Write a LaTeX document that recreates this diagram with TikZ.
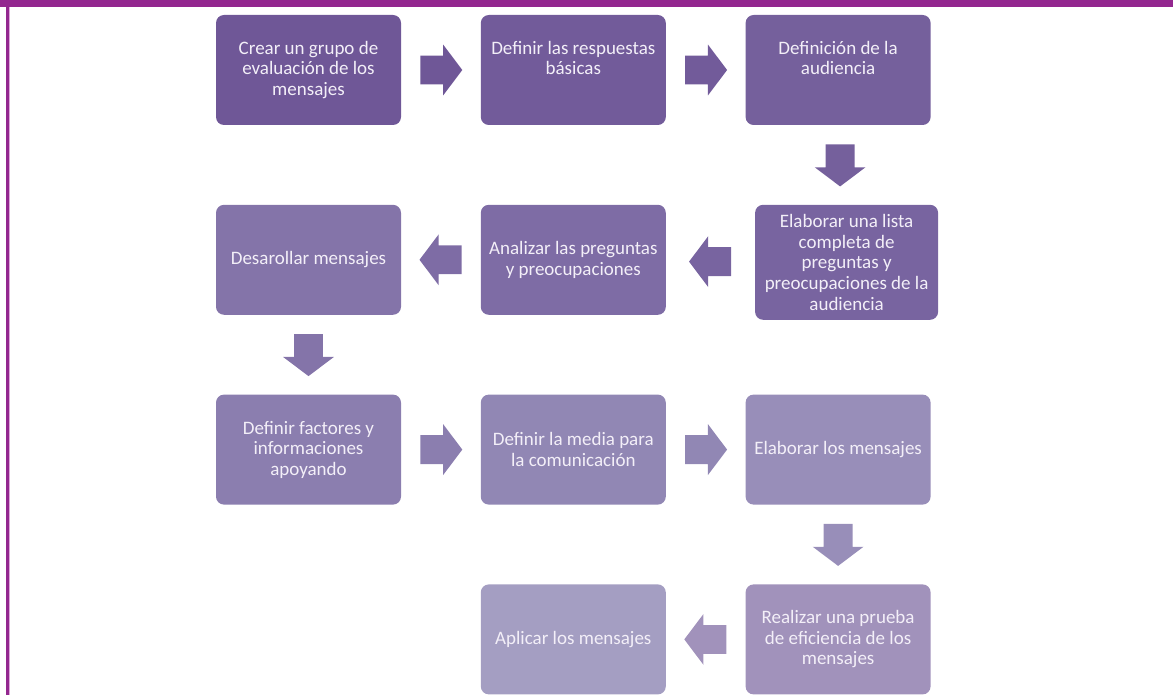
\documentclass[tikz,border=0pt]{standalone}
\usepackage{fontspec}
\setmainfont{Carlito}
\usetikzlibrary{positioning,shapes.arrows,calc}

\definecolor{frame}{HTML}{93278F}
\definecolor{frameL}{HTML}{DDA8DA}
\definecolor{txt}{HTML}{F3EFF8}
\definecolor{c1}{HTML}{6F5797}
\definecolor{c2}{HTML}{725B9A}
\definecolor{c3}{HTML}{75609C}
\definecolor{c4}{HTML}{7864A0}
\definecolor{c5}{HTML}{7E6CA5}
\definecolor{c6}{HTML}{8474A9}
\definecolor{c7}{HTML}{8B7EAF}
\definecolor{c8}{HTML}{9187B4}
\definecolor{c9}{HTML}{988EB9}
\definecolor{c10}{HTML}{A192BB}
\definecolor{c11}{HTML}{A49EC2}

\begin{document}
\begin{tikzpicture}[x=0.5pt,y=-0.5pt,
    box/.style={rectangle,rounded corners=4pt,text=txt,inner sep=2pt,
      minimum width=92.5pt,minimum height=55pt,align=center,
      font=\fontsize{9.5}{10.3}\selectfont},
    raised/.style={text depth=12pt},
    blk/.style={single arrow,draw=none,inner sep=7pt,anchor=tail,
      minimum height=21pt,minimum width=25pt,
      single arrow head extend=5.5pt,single arrow tip angle=106,
      single arrow head indent=0pt},
    lft/.style={shape border rotate=180},
    dwn/.style={shape border rotate=270}]

  \useasboundingbox (0,0) rectangle (1173,695);
  \fill[frame] (0,0) rectangle (1173,7);
  \fill[frame] (6,7) rectangle (9,695);
  \fill[frameL] (9,7) rectangle (10,695);

  \newcommand{\gap}{39.5pt}
  % first row
  \node[box,fill=c1] (grupo) at (308.5,70) {Crear un grupo de\\evaluación de los\\mensajes};
  \node[box,fill=c2,raised,right=\gap of grupo] (resp) {Definir las respuestas\\básicas};
  \node[box,fill=c3,raised,right=\gap of resp] (aud) {Definición de la\\audiencia};
  % second row
  \node[box,fill=c4,below=\gap of aud,xshift=4.25pt,minimum width=91.5pt,
    minimum height=57.5pt] (lista) {Elaborar una lista\\completa de\\preguntas y\\preocupaciones de la\\audiencia};
  \node[box,fill=c5,below=\gap of resp] (anal) {Analizar las preguntas\\y preocupaciones};
  \node[box,fill=c6,below=\gap of grupo] (desa) {Desarollar mensajes};
  % third row
  \node[box,fill=c7,below=\gap of desa] (fact) {Definir factores y\\informaciones\\apoyando};
  \node[box,fill=c8,below=\gap of anal] (media) {Definir la media para\\la comunicación};
  \node[box,fill=c9,right=\gap of media] (elab) {Elaborar los mensajes};
  % last row
  \node[box,fill=c10,below=\gap of elab] (prueba) {Realizar una prueba\\de eficiencia de los\\mensajes};
  \node[box,fill=c11,below=\gap of media] (apl) {Aplicar los mensajes};

  % block arrows, tail put half a length back from the middle of the gap
  \node[blk,fill=c1] (a1) at ($(grupo.east)!0.5!(resp.west)!10.5pt!(grupo.east)$) {};
  \node[blk,fill=c2] (a2) at ($(resp.east)!0.5!(aud.west)!10.5pt!(resp.east)$) {};
  \node[blk,dwn,fill=c3] (a3) at ($(aud.south)!0.5!(lista.north)!10.5pt!(aud.south)$) {};
  \node[blk,lft,fill=c4] (a4) at ($(lista.west)!0.5!(anal.east)!10.5pt!(lista.west)$) {};
  \node[blk,lft,fill=c5] (a5) at ($(anal.west)!0.5!(desa.east)!10.5pt!(anal.west)$) {};
  \node[blk,dwn,fill=c6] (a6) at ($(desa.south)!0.5!(fact.north)!10.5pt!(desa.south)$) {};
  \node[blk,fill=c7] (a7) at ($(fact.east)!0.5!(media.west)!10.5pt!(fact.east)$) {};
  \node[blk,fill=c8] (a8) at ($(media.east)!0.5!(elab.west)!10.5pt!(media.east)$) {};
  \node[blk,dwn,fill=c9] (a9) at ($(elab.south)!0.5!(prueba.north)!10.5pt!(elab.south)$) {};
  \node[blk,lft,fill=c10] (a10) at ($(prueba.west)!0.5!(apl.east)!10.5pt!(prueba.west)$) {};

\end{tikzpicture}
\end{document}
